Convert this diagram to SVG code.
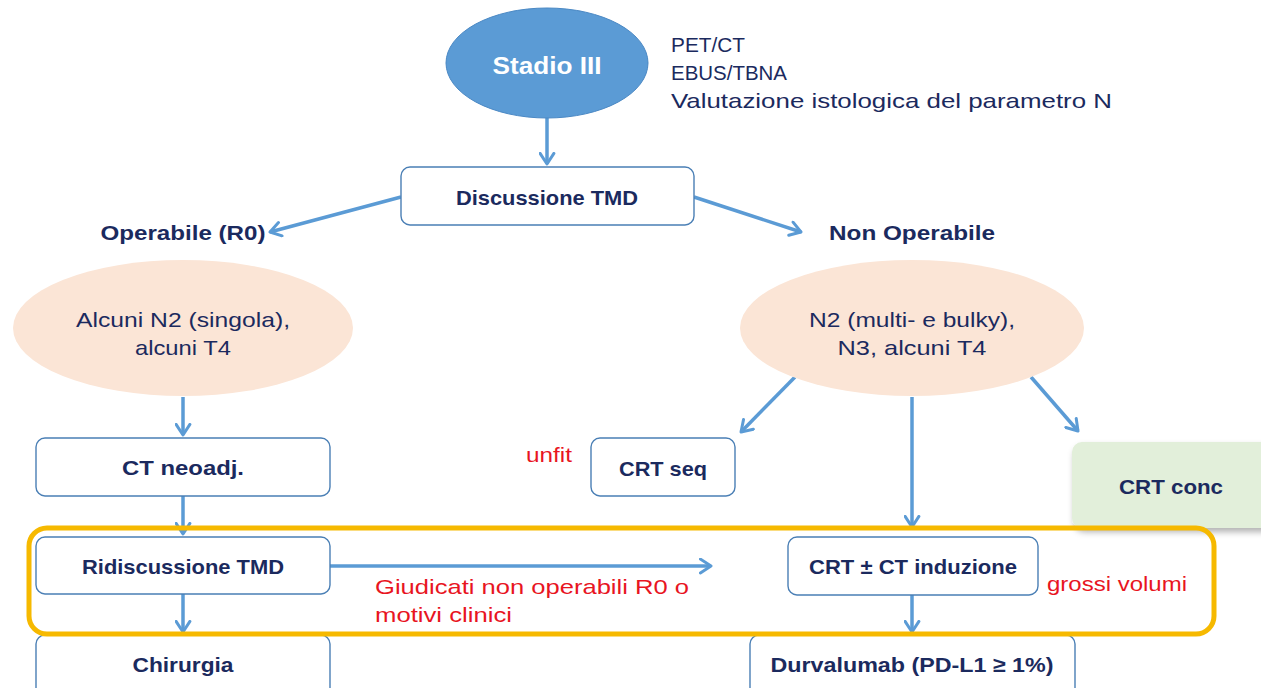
<svg xmlns="http://www.w3.org/2000/svg" width="1261" height="688" viewBox="0 0 1261 688">
  <style>
    .box { fill: #ffffff; stroke: #4a7fb5; stroke-width: 1.4; }
    .peach { fill: #fbe5d6; }
    .lbl { font-family: "Liberation Sans", Arial, sans-serif; font-size: 21px; fill: #1b2a5e; }
    .b { font-weight: bold; }
    .red { font-family: "Liberation Sans", Arial, sans-serif; font-size: 21px; fill: #e8151f; }
    .link { stroke: #5b9bd5; stroke-width: 3.5; fill: none; marker-end: url(#chev); }
  </style>
  <defs>
    <marker id="chev" viewBox="0 0 13 16" refX="11.5" refY="8" markerWidth="14" markerHeight="17" markerUnits="userSpaceOnUse" orient="auto">
      <path d="M1.5,1.5 L11.5,8 L1.5,14.5" fill="none" stroke="#5b9bd5" stroke-width="2.8" stroke-linecap="round" stroke-linejoin="round"/>
    </marker>
    <filter id="shadow" x="-10%" y="-10%" width="130%" height="140%">
      <feDropShadow dx="2" dy="4" stdDeviation="3" flood-color="#000" flood-opacity="0.3"/>
    </filter>
  </defs>

  <rect width="1261" height="688" fill="#ffffff"/>

  <!-- connectors -->
  <g id="connectors">
    <path class="link" d="M547,118 L547,164"/>
    <path class="link" d="M401,197 L270,232"/>
    <path class="link" d="M694,197 L801,232"/>
    <path class="link" d="M183,397 L183,435"/>
    <path class="link" d="M183,496 L183,534"/>
    <path class="link" d="M183,594 L183,632"/>
    <path class="link" d="M795,377 L741,432"/>
    <path class="link" d="M912,397 L912,527"/>
    <path class="link" d="M1031,377 L1078,431"/>
    <path class="link" d="M330,566 L711,566"/>
    <path class="link" d="M912,595 L912,632"/>
  </g>

  <!-- start node -->
  <g id="stadio">
    <ellipse cx="547" cy="63" rx="101" ry="55" fill="#5b9bd5" stroke="#4a88c4" stroke-width="1"/>
    <text x="547" y="74" text-anchor="middle" class="lbl b" style="fill:#ffffff;font-size:23px" textLength="109" lengthAdjust="spacingAndGlyphs">Stadio III</text>
  </g>

  <g id="esami">
    <text x="671" y="52" class="lbl" textLength="74" lengthAdjust="spacingAndGlyphs">PET/CT</text>
    <text x="671" y="80" class="lbl" textLength="116" lengthAdjust="spacingAndGlyphs">EBUS/TBNA</text>
    <text x="671" y="108" class="lbl" textLength="441" lengthAdjust="spacingAndGlyphs">Valutazione istologica del parametro N</text>
  </g>

  <g id="discussione">
    <rect class="box" x="401" y="167" width="293" height="58" rx="9"/>
    <text x="547" y="205" text-anchor="middle" class="lbl b" textLength="182" lengthAdjust="spacingAndGlyphs">Discussione TMD</text>
  </g>

  <g id="operabile">
    <text x="183" y="240" text-anchor="middle" class="lbl b" textLength="165" lengthAdjust="spacingAndGlyphs">Operabile (R0)</text>
  </g>

  <g id="non-operabile">
    <text x="912" y="240" text-anchor="middle" class="lbl b" textLength="166" lengthAdjust="spacingAndGlyphs">Non Operabile</text>
  </g>

  <g id="stadio-operabile">
    <ellipse class="peach" cx="183" cy="328" rx="170" ry="68"/>
    <text x="183" y="327" text-anchor="middle" class="lbl" textLength="214" lengthAdjust="spacingAndGlyphs">Alcuni N2 (singola),</text>
    <text x="183" y="355" text-anchor="middle" class="lbl" textLength="96" lengthAdjust="spacingAndGlyphs">alcuni T4</text>
  </g>

  <g id="stadio-non-operabile">
    <ellipse class="peach" cx="912" cy="328" rx="172" ry="68"/>
    <text x="912" y="327" text-anchor="middle" class="lbl" textLength="206" lengthAdjust="spacingAndGlyphs">N2 (multi- e bulky),</text>
    <text x="912" y="355" text-anchor="middle" class="lbl" textLength="149" lengthAdjust="spacingAndGlyphs">N3, alcuni T4</text>
  </g>

  <g id="ct-neoadj">
    <rect class="box" x="36" y="438" width="294" height="58" rx="9"/>
    <text x="183" y="475" text-anchor="middle" class="lbl b" textLength="122" lengthAdjust="spacingAndGlyphs">CT neoadj.</text>
  </g>

  <g id="ridiscussione">
    <rect class="box" x="36" y="537" width="294" height="57" rx="9"/>
    <text x="183" y="574" text-anchor="middle" class="lbl b" textLength="202" lengthAdjust="spacingAndGlyphs">Ridiscussione TMD</text>
  </g>

  <g id="chirurgia">
    <rect class="box" x="36" y="635" width="294" height="70" rx="9"/>
    <text x="183" y="672" text-anchor="middle" class="lbl b" textLength="101" lengthAdjust="spacingAndGlyphs">Chirurgia</text>
  </g>

  <g id="crt-seq">
    <rect class="box" x="591" y="438" width="144" height="58" rx="9"/>
    <text x="663" y="476" text-anchor="middle" class="lbl b" textLength="88" lengthAdjust="spacingAndGlyphs">CRT seq</text>
    <text x="526" y="462" class="red" textLength="46" lengthAdjust="spacingAndGlyphs">unfit</text>
  </g>

  <g id="crt-conc">
    <rect x="1072" y="442" width="200" height="86" rx="10" fill="#e2efda" filter="url(#shadow)"/>
    <text x="1171" y="494" text-anchor="middle" class="lbl b" textLength="104" lengthAdjust="spacingAndGlyphs">CRT conc</text>
  </g>

  <g id="crt-induzione">
    <rect class="box" x="788" y="537" width="250" height="58" rx="9"/>
    <text x="913" y="574" text-anchor="middle" class="lbl b" textLength="208" lengthAdjust="spacingAndGlyphs">CRT ± CT induzione</text>
    <text x="1047" y="591" class="red" textLength="140" lengthAdjust="spacingAndGlyphs">grossi volumi</text>
  </g>

  <g id="durvalumab">
    <rect class="box" x="750" y="635" width="325" height="70" rx="9"/>
    <text x="912" y="672" text-anchor="middle" class="lbl b" textLength="283" lengthAdjust="spacingAndGlyphs">Durvalumab (PD-L1 ≥ 1%)</text>
  </g>

  <g id="nota-non-operabili">
    <text x="375" y="594" class="red" textLength="314" lengthAdjust="spacingAndGlyphs">Giudicati non operabili R0 o</text>
    <text x="375" y="622" class="red" textLength="137" lengthAdjust="spacingAndGlyphs">motivi clinici</text>
  </g>

  <!-- highlight frame around the re-evaluation step -->
  <g id="evidenza">
    <rect x="29" y="528" width="1185" height="106" rx="18" fill="none" stroke="#f6b900" stroke-width="5"/>
  </g>
</svg>
